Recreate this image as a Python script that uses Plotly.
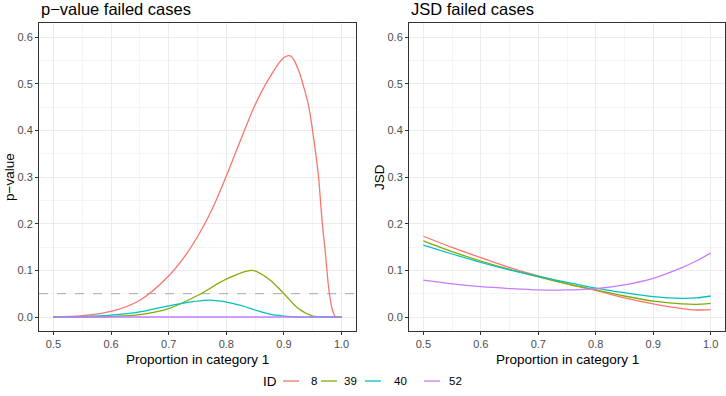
import plotly.graph_objects as go

# ---------------- data ----------------
ids = ["8", "39", "40", "52"]
colors = ["#F8766D", "#7CAE00", "#00BFC4", "#C77CFF"]

# p-value panel
pv_x_8 = [0.5, 0.55, 0.6, 0.65, 0.7, 0.725, 0.75, 0.775, 0.8, 0.825, 0.85, 0.875, 0.9, 0.912,
          0.925, 0.935, 0.943, 0.952, 0.96, 0.966, 0.972, 0.978, 0.984, 0.99, 1.0]
pv_y_8 = [0.0, 0.003, 0.012, 0.036, 0.088, 0.125, 0.172, 0.23, 0.302, 0.38, 0.455, 0.513, 0.556, 0.559,
          0.53, 0.49, 0.451, 0.379, 0.30, 0.208, 0.136, 0.058, 0.015, 0.0, 0.0]

pv_x_39 = [0.5, 0.55, 0.6, 0.65, 0.7, 0.75, 0.8, 0.845, 0.875, 0.9, 0.925, 0.95, 0.975, 1.0]
pv_y_39 = [0.0, 0.0, 0.001, 0.005, 0.018, 0.046, 0.081, 0.1, 0.08, 0.05, 0.018, 0.002, 0.0, 0.0]

pv_x_40 = [0.5, 0.55, 0.6, 0.65, 0.7, 0.772, 0.825, 0.85, 0.875, 0.9, 0.925, 0.95, 1.0]
pv_y_40 = [0.0, 0.001, 0.004, 0.011, 0.024, 0.036, 0.025, 0.015, 0.006, 0.002, 0.0, 0.0, 0.0]

pv_x_52 = [0.5, 0.75, 1.0]
pv_y_52 = [0.0, 0.0, 0.0]

threshold = 0.05

# JSD panel
jsd_x = [0.5, 0.55, 0.6, 0.65, 0.7, 0.75, 0.8, 0.85, 0.9, 0.95, 0.975, 1.0]
jsd_y_8 = [0.173, 0.149, 0.127, 0.106, 0.088, 0.071, 0.057, 0.041, 0.028, 0.018, 0.015, 0.016]
jsd_y_39 = [0.163, 0.140, 0.120, 0.102, 0.086, 0.071, 0.058, 0.045, 0.034, 0.028, 0.027, 0.029]
jsd_y_40 = [0.154, 0.135, 0.117, 0.101, 0.087, 0.074, 0.062, 0.052, 0.0435, 0.040, 0.041, 0.045]
jsd_y_52 = [0.079, 0.071, 0.065, 0.061, 0.058, 0.058, 0.061, 0.069, 0.083, 0.106, 0.120, 0.137]

x_ticks = [0.5, 0.6, 0.7, 0.8, 0.9, 1.0]
y_ticks = [0.0, 0.1, 0.2, 0.3, 0.4, 0.5, 0.6]

pv_series = [(pv_x_8, pv_y_8), (pv_x_39, pv_y_39), (pv_x_40, pv_y_40), (pv_x_52, pv_y_52)]
jsd_series = [jsd_y_8, jsd_y_39, jsd_y_40, jsd_y_52]

# ---------------- figure ----------------
W, H = 726, 396
FONT = "Liberation Sans, Arial, sans-serif"
fig = go.Figure()

fig.add_trace(go.Scatter(x=[0.475, 1.025], y=[threshold, threshold], mode="lines",
                         line=dict(color="#A9A9A9", width=1, dash="dash"),
                         xaxis="x", yaxis="y", showlegend=False, hoverinfo="skip"))

for i, (xs, ys) in enumerate(pv_series):
    fig.add_trace(go.Scatter(x=xs, y=ys, mode="lines", name=ids[i],
                             line=dict(color=colors[i], width=1.3, shape="spline", smoothing=0.9),
                             xaxis="x", yaxis="y", showlegend=False))
for i, ys in enumerate(jsd_series):
    fig.add_trace(go.Scatter(x=jsd_x, y=ys, mode="lines", name=ids[i],
                             line=dict(color=colors[i], width=1.3, shape="spline", smoothing=0.8),
                             xaxis="x2", yaxis="y2", showlegend=False))

grid = "#EBEBEB"
border = "#333333"
tickfont = dict(family=FONT, size=11, color="#4D4D4D")
titlefont = dict(family=FONT, size=13.5, color="#000000")

def xax(domain, anchor):
    return dict(domain=domain, anchor=anchor, range=[0.475, 1.025], tickvals=x_ticks,
                ticktext=[f"{v:.1f}" for v in x_ticks], showgrid=True, gridcolor=grid, gridwidth=1,
                minor=dict(dtick=0.05, tick0=0.45, showgrid=True, gridcolor="#F4F4F4", gridwidth=0.6, ticks=""),
                ticks="outside", ticklen=3, tickcolor=border, tickwidth=1,
                showline=True, linecolor=border, linewidth=1, mirror=True, zeroline=False,
                tickfont=tickfont, automargin=False)

def yax(domain, anchor):
    return dict(domain=domain, anchor=anchor, range=[-0.03, 0.63], tickvals=y_ticks,
                ticktext=[f"{v:.1f}" for v in y_ticks], showgrid=True, gridcolor=grid, gridwidth=1,
                minor=dict(dtick=0.05, tick0=0.05, showgrid=True, gridcolor="#F4F4F4", gridwidth=0.6, ticks=""),
                ticks="outside", ticklen=3, tickcolor=border, tickwidth=1,
                showline=True, linecolor=border, linewidth=1, mirror=True, zeroline=False,
                tickfont=tickfont, automargin=False)

ydom = [1 - 331 / H, 1 - 23 / H]
x1dom = [39 / W, 356 / W]
x2dom = [409 / W, 725 / W]

fig.update_layout(
    width=W, height=H,
    margin=dict(l=0, r=0, t=0, b=0),
    paper_bgcolor="white", plot_bgcolor="white",
    font=dict(family=FONT),
    xaxis=xax(x1dom, "y"), yaxis=yax(ydom, "x"),
    xaxis2=xax(x2dom, "y2"), yaxis2=yax(ydom, "x2"),
    showlegend=False,
)

ann = [
    dict(text="p\u2212value failed cases", x=39 / W, y=1 - 9 / H, xanchor="left", yanchor="middle",
         font=dict(size=16.5, color="#000000", family=FONT)),
    dict(text="JSD failed cases", x=409 / W, y=1 - 9 / H, xanchor="left", yanchor="middle",
         font=dict(size=16.5, color="#000000", family=FONT)),
    dict(text="Proportion in category 1", x=(39 + 356) / 2 / W, y=1 - 359 / H, xanchor="center",
         yanchor="middle", font=titlefont),
    dict(text="Proportion in category 1", x=(409 + 725) / 2 / W, y=1 - 359 / H, xanchor="center",
         yanchor="middle", font=titlefont),
    dict(text="p\u2212value", x=9 / W, y=(ydom[0] + ydom[1]) / 2, xanchor="center", yanchor="middle",
         textangle=-90, font=titlefont),
    dict(text="JSD", x=379 / W, y=(ydom[0] + ydom[1]) / 2, xanchor="center", yanchor="middle",
         textangle=-90, font=titlefont),
]

# manual legend (ggplot-style, bottom centre)
leg_y = 1 - 381 / H
key_x0 = [283, 321, 365, 424]
key_w = 16
lab_x = [309, 342, 392, 447]
ann.append(dict(text="ID", x=261 / W, y=leg_y, xanchor="left", yanchor="middle",
                font=dict(size=13.5, color="#000000", family=FONT)))
shapes = []
for i in range(4):
    shapes.append(dict(type="line", xref="paper", yref="paper",
                       x0=key_x0[i] / W, x1=(key_x0[i] + key_w) / W, y0=leg_y, y1=leg_y,
                       line=dict(color=colors[i], width=1.3)))
    ann.append(dict(text=ids[i], x=lab_x[i] / W, y=leg_y, xanchor="left", yanchor="middle",
                    font=dict(size=11.5, color="#000000", family=FONT)))

for a in ann:
    a.update(xref="paper", yref="paper", showarrow=False)
fig.update_layout(annotations=ann, shapes=shapes)

fig.write_html("out.html", config={"displayModeBar": False},
               post_script="document.body.style.margin='0';document.body.style.overflow='hidden';")
